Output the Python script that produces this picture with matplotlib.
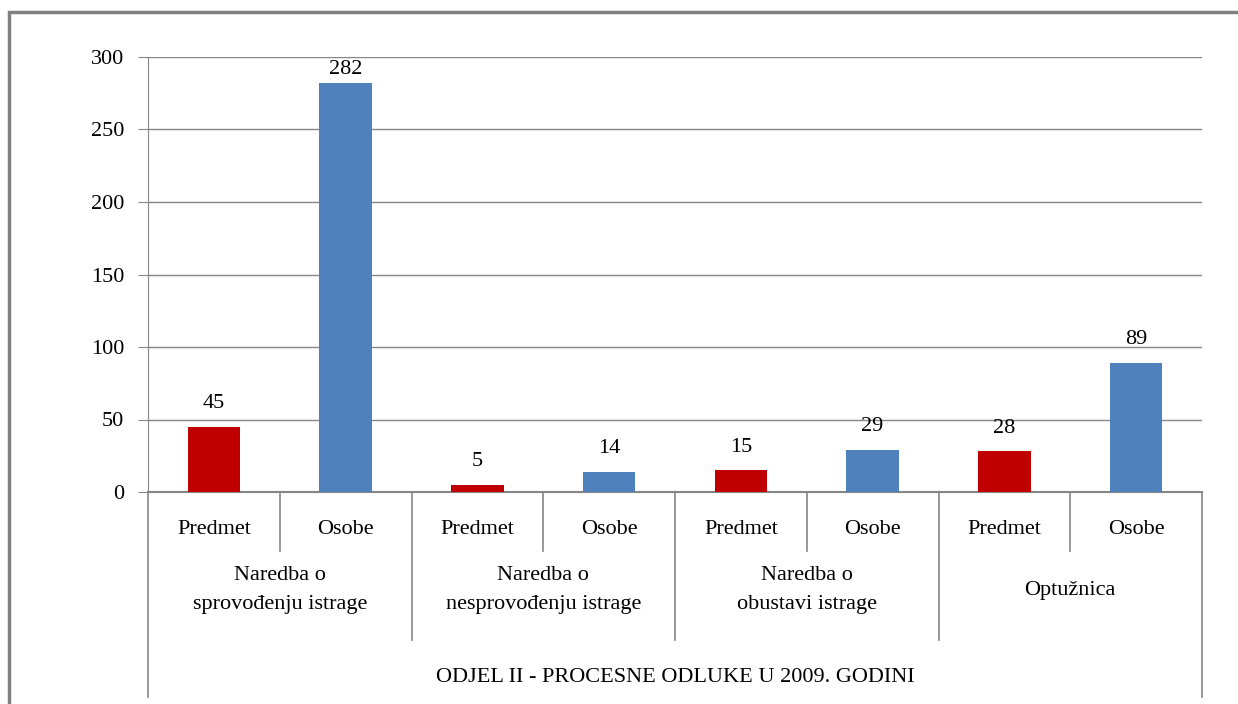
import numpy as np
import matplotlib.pyplot as plt
from matplotlib.patches import Rectangle

groups = ["Naredba o\nsprovođenju istrage", "Naredba o\nnesprovođenju istrage",
          "Naredba o\nobustavi istrage", "Optužnica"]
sub_labels = ["Predmet", "Osobe"]
predmet = [45, 5, 15, 28]
osobe = [282, 14, 29, 89]
title = "ODJEL II - PROCESNE ODLUKE U 2009. GODINI"

plt.rcParams['font.family'] = ['Liberation Serif', 'DejaVu Serif']
FS = 16

W, H = 1238, 704
fig = plt.figure(figsize=(W / 100.0, H / 100.0), dpi=100)
ax = fig.add_axes([148 / W, 1 - 492 / H, (1202 - 148) / W, (492 - 57) / H])

grid_col = "#868686"
red = "#C00000"
blue = "#4F81BD"

# interleave: Predmet, Osobe per group
values = []
colors = []
for p, o in zip(predmet, osobe):
    values += [p, o]
    colors += [red, blue]
x = np.arange(len(values))

ax.bar(x, values, width=0.4, color=colors, zorder=3)

# data labels ~23px above the bar, kept inside the plot area
px = 300 / 435.0
for xi, v in zip(x, values):
    ax.text(xi, min(v + 23 * px, 300 - 13 * px), str(v), ha="center", va="center", fontsize=FS)

ax.set_xlim(-0.5, len(values) - 0.5)
ax.set_ylim(0, 300)
ax.set_yticks(range(0, 301, 50))
ax.yaxis.grid(True, color=grid_col, linewidth=1)
ax.set_axisbelow(True)
for s in ["top", "right", "bottom"]:
    ax.spines[s].set_visible(False)
ax.spines["left"].set_color(grid_col)
ax.tick_params(axis="y", length=7, color=grid_col, pad=10, labelsize=FS)
ax.tick_params(axis="x", length=0, labelbottom=False)

# category axis, drawn by hand below the plot
tr = ax.get_xaxis_transform()
ax.plot([-0.5, len(values) - 0.5], [0, 0], color=grid_col, lw=1.5, transform=tr, clip_on=False)

def fy(py):
    # pixel row -> axes fraction
    return (492 - py) / (492 - 57)

for i in range(len(values)):
    ax.text(i, fy(530), sub_labels[i % 2], ha="center", va="center", transform=tr, fontsize=FS)
for i in range(len(values) - 1):
    if i % 2 == 0:
        ax.plot([i + 0.5, i + 0.5], [0, fy(551)], color=grid_col, lw=1.2, transform=tr, clip_on=False)
for g in range(1, len(groups)):
    xs = 2 * g - 0.5
    ax.plot([xs, xs], [0, fy(640)], color=grid_col, lw=1.2, transform=tr, clip_on=False)
for xs in [-0.5, len(values) - 0.5]:
    ax.plot([xs, xs], [0, fy(697)], color=grid_col, lw=1.2, transform=tr, clip_on=False)
for g, name in enumerate(groups):
    ax.text(2 * g + 0.5, fy(590), name, ha="center", va="center", transform=tr,
            fontsize=FS, linespacing=1.75)
ax.text((len(values) - 1) / 2, fy(677), title, ha="center", va="center", transform=tr, fontsize=FS)

# outer chart border
fig.patches.append(Rectangle((9 / W, -0.1), 1.2, 1 - 12 / H + 0.1, transform=fig.transFigure,
                             fill=False, edgecolor="#808080", linewidth=2.5))

fig.savefig("out.png", dpi=100)
